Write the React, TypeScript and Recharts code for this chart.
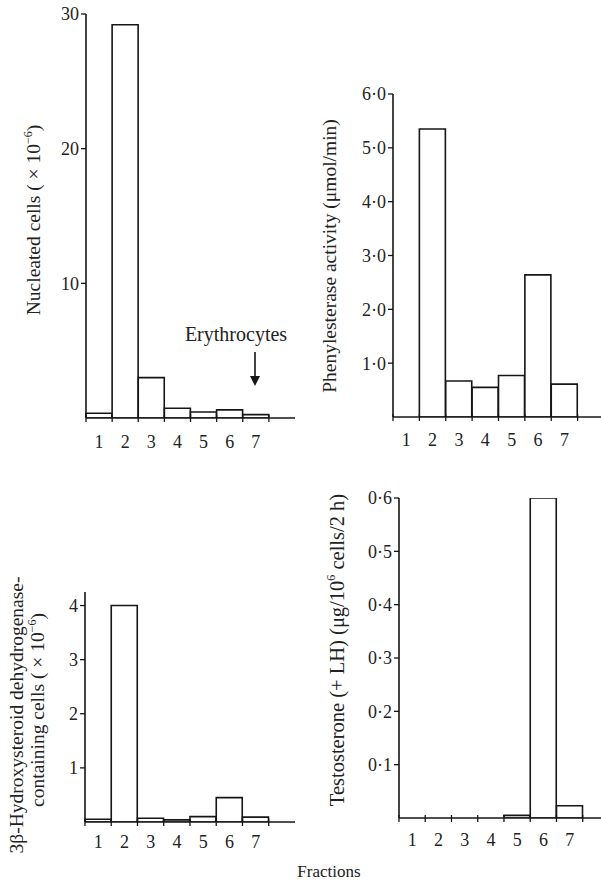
import React from "react";
import { BarChart, Bar, XAxis, YAxis } from "recharts";

// fraction labels (8th slot is empty, axis runs on past fraction 7)
const fractions = ["1", "2", "3", "4", "5", "6", "7", ""];

const nucleatedCells = [0.35, 29.2, 3.0, 0.72, 0.45, 0.6, 0.25];
const phenylesterase = [0, 5.35, 0.67, 0.55, 0.77, 2.64, 0.61];
const hsdCells = [0.05, 4.0, 0.07, 0.04, 0.1, 0.45, 0.09];
const testosterone = [0, 0, 0, 0, 0.005, 0.6, 0.023];

const nucleatedTicks = [10, 20, 30];
const phenylTicks = [1, 2, 3, 4, 5, 6];
const hsdTicks = [1, 2, 3, 4];
const testoTicks = [0.1, 0.2, 0.3, 0.4, 0.5, 0.6];

const FONT = "'Liberation Serif', 'DejaVu Serif', serif";
const INK = "#161616";

const toRows = (values: number[]) =>
  fractions.map((f, i) => ({ fraction: f, value: i < values.length ? values[i] : null }));

const dotFmt = (v: number) => v.toFixed(1).replace(".", "·");

// x tick: tick mark on the left edge of each fraction, label in the middle
const makeTick = (band: number, labelDy: number) => (props: any) => {
  const { x, y, payload } = props;
  const edge = x - band / 2;
  return (
    <g>
      <line x1={edge} x2={edge} y1={y - 3} y2={y + 4} stroke={INK} strokeWidth={1.3} />
      <text x={x} y={y + labelDy} textAnchor="middle" fontFamily={FONT} fontSize={18} fill="#222">
        {payload.value}
      </text>
    </g>
  );
};

type PanelProps = {
  left: number;
  top: number;
  width: number;
  height: number;
  yWidth: number;
  xHeight: number;
  mTop: number;
  mRight: number;
  band: number;
  labelDy: number;
  values: number[];
  domain: [number, number];
  ticks: number[];
  fmt?: (v: number) => string;
};

function Panel(p: PanelProps) {
  return (
    <div style={{ position: "absolute", left: p.left, top: p.top }}>
      <BarChart
        width={p.width}
        height={p.height}
        data={toRows(p.values)}
        margin={{ top: p.mTop, right: p.mRight, left: 0, bottom: 0 }}
        barCategoryGap={0}
      >
        <XAxis
          dataKey="fraction"
          height={p.xHeight}
          interval={0}
          tickLine={false}
          tickSize={0}
          tickMargin={0}
          axisLine={{ stroke: INK, strokeWidth: 1.6 }}
          tick={makeTick(p.band, p.labelDy)}
        />
        <YAxis
          width={p.yWidth}
          domain={p.domain}
          ticks={p.ticks}
          interval={0}
          tickSize={5}
          tickMargin={2}
          tickFormatter={p.fmt}
          axisLine={{ stroke: INK, strokeWidth: 1.6 }}
          tickLine={{ stroke: INK, strokeWidth: 1.3 }}
          tick={{ fontFamily: FONT, fontSize: 18, fill: "#222" }}
          allowDataOverflow
        />
        <Bar dataKey="value" fill="#fff" stroke={INK} strokeWidth={1.6} isAnimationActive={false} />
      </BarChart>
    </div>
  );
}

const Sup = ({ s }: { s: string }) => (
  <>
    <tspan dy={-7} fontSize={12}>{s}</tspan>
    <tspan dy={7}>)</tspan>
  </>
);

export default function App() {
  return (
    <div
      style={{
        position: "absolute",
        left: 0,
        top: 0,
        width: 601,
        height: 883,
        overflow: "hidden",
        background: "#fff",
      }}
    >
      <Panel left={0} top={0} width={300} height={460} yWidth={86} xHeight={42} mTop={14} mRight={5}
        band={26.1} labelDy={30} values={nucleatedCells} domain={[0, 30]} ticks={nucleatedTicks} />
      <Panel left={300} top={0} width={310} height={460} yWidth={93} xHeight={43} mTop={94} mRight={6}
        band={26.4} labelDy={29} values={phenylesterase} domain={[0, 6]} ticks={phenylTicks} fmt={dotFmt} />
      <Panel left={0} top={460} width={300} height={423} yWidth={85} xHeight={61} mTop={132} mRight={5}
        band={26.3} labelDy={26} values={hsdCells} domain={[0, 4.25]} ticks={hsdTicks} />
      <Panel left={300} top={460} width={315} height={423} yWidth={99} xHeight={65} mTop={38} mRight={6}
        band={26.3} labelDy={28} values={testosterone} domain={[0, 0.6]} ticks={testoTicks} fmt={dotFmt} />

      <svg width={601} height={883} style={{ position: "absolute", left: 0, top: 0, pointerEvents: "none" }}>
        <g fontFamily={FONT} fontSize={19.5} fill="#222" textAnchor="middle">
          <text x={36} y={220} transform="rotate(-90 36 220)" dominantBaseline="middle">
            Nucleated cells ( × 10<Sup s="−6" />
          </text>
          <text x={332} y={256} transform="rotate(-90 332 256)" dominantBaseline="middle">
            Phenylesterase activity (μmol/min)
          </text>
          <text x={19} y={715} transform="rotate(-90 19 715)" dominantBaseline="middle">
            3β-Hydroxysteroid dehydrogenase-
          </text>
          <text x={40} y={710} transform="rotate(-90 40 710)" dominantBaseline="middle">
            containing cells ( × 10<Sup s="−6" />
          </text>
          <text x={339} y={650} fontSize={20.5} transform="rotate(-90 339 650)" dominantBaseline="middle">
            Testosterone (+ LH) (μg/10<tspan dy={-7} fontSize={12}>6</tspan>
            <tspan dy={7}> cells/2 h)</tspan>
          </text>
          <text x={236} y={341} fontSize={20}>Erythrocytes</text>
          <text x={329} y={877} fontSize={17}>Fractions</text>
        </g>
        <line x1={255} x2={255} y1={352} y2={378} stroke={INK} strokeWidth={1.6} />
        <path d="M250,376 L260,376 L255,386 Z" fill={INK} />
      </svg>
    </div>
  );
}
